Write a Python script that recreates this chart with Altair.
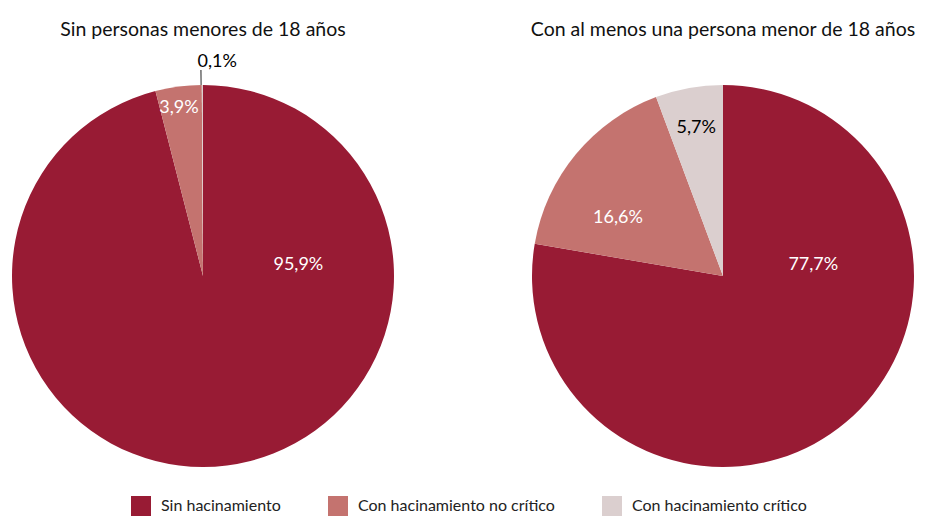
import math
import altair as alt
import pandas as pd

categories = ["Sin hacinamiento", "Con hacinamiento no crítico", "Con hacinamiento crítico"]
colors = ["#981B34", "#C4736F", "#DBCFCF"]

title_sin = "Sin personas menores de 18 años"
title_con = "Con al menos una persona menor de 18 años"
values_sin = [95.9, 3.9, 0.1]
values_con = [77.7, 16.6, 5.7]

# label placement (style): angle in degrees clockwise from 12 o'clock, radius in px
label_angle_sin = [83.4, 351.9, 3.8]
label_radius_sin = [96, 170, 214]
label_color_sin = ["white", "white", "black"]
label_angle_con = [83.0, 298.9, 349.7]
label_radius_con = [91, 120, 150]
label_color_con = ["white", "white", "black"]

FONT = "Lato"
R = 191


def fmt(v):
    return f"{v:.1f}".replace(".", ",") + "%"


def panel(title, values, angs, rads, tcols, leader=False):
    df = pd.DataFrame({
        "cat": categories,
        "value": values,
        "order": list(range(len(values))),
        "label": [fmt(v) for v in values],
        "ang": [math.radians(a) for a in angs],
        "rad": rads,
        "tcol": tcols,
    })
    base = alt.Chart(df)
    arc = base.mark_arc(outerRadius=R).encode(
        theta=alt.Theta("value:Q", stack=True),
        order=alt.Order("order:Q"),
        color=alt.Color(
            "cat:N",
            scale=alt.Scale(domain=categories, range=colors),
            sort=categories,
            legend=alt.Legend(
                title=None, orient="none", direction="horizontal",
                legendX=119, legendY=411,
                symbolType="square", symbolSize=400, symbolStrokeWidth=0,
                labelFont=FONT, labelFontSize=16, labelColor="#222222", labelLimit=0,
                columnPadding=47, labelOffset=10, symbolOpacity=1,
            ),
        ),
    )
    text = base.mark_text(font=FONT, fontSize=18).encode(
        theta=alt.Theta("ang:Q", scale=None),
        radius=alt.Radius("rad:Q", scale=None),
        text="label:N",
        color=alt.Color("tcol:N", scale=None),
    )
    ttl = alt.Chart(pd.DataFrame({"t": [title]})).mark_text(
        font=FONT, fontSize=19.5, color="#111111", baseline="alphabetic", align="center"
    ).encode(text="t:N", x=alt.value(R), y=alt.value(-49))
    layers = [arc, text, ttl]
    if leader:
        ld = alt.Chart(pd.DataFrame({"k": [values[-1]]})).mark_arc(
            radius=R, radius2=R + 15, color="#222222"
        ).encode(
            theta=alt.value(2 * math.pi - 0.0125),
            theta2=alt.value(2 * math.pi - 0.0075),
        )
        layers.append(ld)
    return alt.layer(*layers).properties(width=2 * R, height=2 * R)


left = panel(title_sin, values_sin, label_angle_sin, label_radius_sin, label_color_sin, leader=True)
right = panel(title_con, values_con, label_angle_con, label_radius_con, label_color_con)

chart = alt.hconcat(left, right, spacing=136).properties(
    padding={"left": 4, "top": 12, "right": 0, "bottom": 0}
).configure_view(stroke=None)

chart.save("out.html", embed_options={"renderer": "svg", "actions": False})
